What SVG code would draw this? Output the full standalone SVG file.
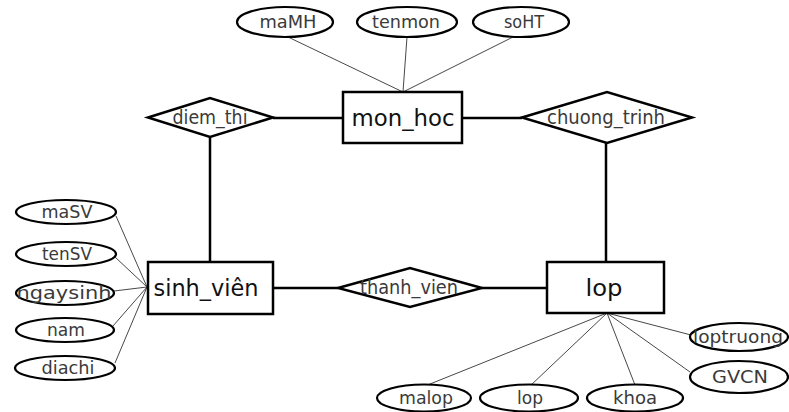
<svg xmlns="http://www.w3.org/2000/svg" width="789" height="412" viewBox="0 0 789 412">
<style>
.bg{fill:#fff}
.ent rect{fill:#fff;stroke:#000;stroke-width:2.5}
.rel polygon{fill:#fff;stroke:#000;stroke-width:2.5}
.att ellipse{fill:#fff;stroke:#000;stroke-width:2.2}
text{font-family:"DejaVu Sans","Liberation Sans",sans-serif;fill:#3a3a3a;text-anchor:middle}
.ent text{font-size:23px;fill:#111}
.rel text{font-size:19px}
.att text{font-size:18px}
.thick{stroke:#000;stroke-width:2.5;fill:none}
.thin{stroke:#333;stroke-width:0.9;fill:none}
</style>
<rect class="bg" width="789" height="412"/>
<g id="connectors">
  <line class="thin" x1="288" y1="37" x2="403" y2="92"/>
  <line class="thin" x1="407" y1="37" x2="403" y2="92"/>
  <line class="thin" x1="515" y1="36" x2="403" y2="92"/>
  <line class="thick" x1="273" y1="118" x2="343" y2="118"/>
  <line class="thick" x1="462" y1="118" x2="522" y2="118"/>
  <line class="thick" x1="210" y1="137" x2="210" y2="262"/>
  <line class="thick" x1="606" y1="143" x2="606" y2="262"/>
  <line class="thick" x1="273" y1="288" x2="338" y2="288"/>
  <line class="thick" x1="482" y1="288" x2="547" y2="288"/>
  <line class="thin" x1="116" y1="216" x2="147" y2="287"/>
  <line class="thin" x1="115" y1="257" x2="147" y2="287"/>
  <line class="thin" x1="114" y1="291" x2="147" y2="287"/>
  <line class="thin" x1="113" y1="326" x2="147" y2="287"/>
  <line class="thin" x1="115" y1="363" x2="147" y2="287"/>
  <line class="thin" x1="607" y1="313" x2="425" y2="386"/>
  <line class="thin" x1="607" y1="313" x2="530" y2="386"/>
  <line class="thin" x1="607" y1="313" x2="635" y2="385"/>
  <line class="thin" x1="607" y1="313" x2="690" y2="372"/>
  <line class="thin" x1="607" y1="313" x2="691" y2="335"/>
</g>
<g id="mon_hoc" class="ent"><rect x="343" y="92" width="119" height="51"/><text x="403" y="126" textLength="103" lengthAdjust="spacingAndGlyphs">mon_hoc</text></g>
<g id="sinh_vien" class="ent"><rect x="148" y="262" width="125" height="52"/><text x="206" y="296" textLength="105" lengthAdjust="spacingAndGlyphs">sinh_viên</text></g>
<g id="lop" class="ent"><rect x="547" y="262" width="117" height="51"/><text x="604" y="296" textLength="37" lengthAdjust="spacingAndGlyphs">lop</text></g>
<g id="diem_thi" class="rel"><polygon points="148,117.5 210,98 273,117.5 210,137"/><text x="210" y="124" textLength="75" lengthAdjust="spacingAndGlyphs">diem_thi</text></g>
<g id="chuong_trinh" class="rel"><polygon points="522,117.5 607,92 692,117.5 607,143"/><text x="606" y="124" textLength="118" lengthAdjust="spacingAndGlyphs">chuong_trinh</text></g>
<g id="thanh_vien" class="rel"><polygon points="338,288 410,268 482,288 410,307"/><text x="409" y="294" textLength="98" lengthAdjust="spacingAndGlyphs">thanh_vien</text></g>
<g id="maMH" class="att"><ellipse cx="285" cy="22" rx="48" ry="15"/><text x="288" y="28" textLength="57" lengthAdjust="spacingAndGlyphs">maMH</text></g>
<g id="tenmon" class="att"><ellipse cx="407" cy="22" rx="50" ry="15"/><text x="406" y="28" textLength="68" lengthAdjust="spacingAndGlyphs">tenmon</text></g>
<g id="soHT" class="att"><ellipse cx="521" cy="22" rx="48" ry="15"/><text x="524" y="28" textLength="40" lengthAdjust="spacingAndGlyphs">soHT</text></g>
<g id="maSV" class="att"><ellipse cx="66" cy="212" rx="50" ry="12"/><text x="67" y="218" textLength="51" lengthAdjust="spacingAndGlyphs">maSV</text></g>
<g id="tenSV" class="att"><ellipse cx="66" cy="254" rx="50" ry="12"/><text x="67" y="260" textLength="50" lengthAdjust="spacingAndGlyphs">tenSV</text></g>
<g id="ngaysinh" class="att"><ellipse cx="65" cy="293" rx="49" ry="12"/><text x="64" y="299" textLength="95" lengthAdjust="spacingAndGlyphs">ngaysinh</text></g>
<g id="nam" class="att"><ellipse cx="65" cy="330" rx="49" ry="12"/><text x="66" y="336" textLength="38" lengthAdjust="spacingAndGlyphs">nam</text></g>
<g id="diachi" class="att"><ellipse cx="65" cy="368" rx="50" ry="12"/><text x="68" y="374" textLength="53" lengthAdjust="spacingAndGlyphs">diachi</text></g>
<g id="malop" class="att"><ellipse cx="424" cy="398" rx="47" ry="13.5"/><text x="426" y="404" textLength="54" lengthAdjust="spacingAndGlyphs">malop</text></g>
<g id="lop_attr" class="att"><ellipse cx="529" cy="398" rx="49" ry="13.5"/><text x="530" y="404" textLength="26" lengthAdjust="spacingAndGlyphs">lop</text></g>
<g id="khoa" class="att"><ellipse cx="635" cy="398" rx="48" ry="13.5"/><text x="635" y="404" textLength="44" lengthAdjust="spacingAndGlyphs">khoa</text></g>
<g id="loptruong" class="att"><ellipse cx="739" cy="337" rx="49" ry="14"/><text x="738" y="343" textLength="90" lengthAdjust="spacingAndGlyphs">loptruong</text></g>
<g id="GVCN" class="att"><ellipse cx="739" cy="377" rx="49" ry="16"/><text x="740" y="383" textLength="56" lengthAdjust="spacingAndGlyphs">GVCN</text></g>
</svg>
